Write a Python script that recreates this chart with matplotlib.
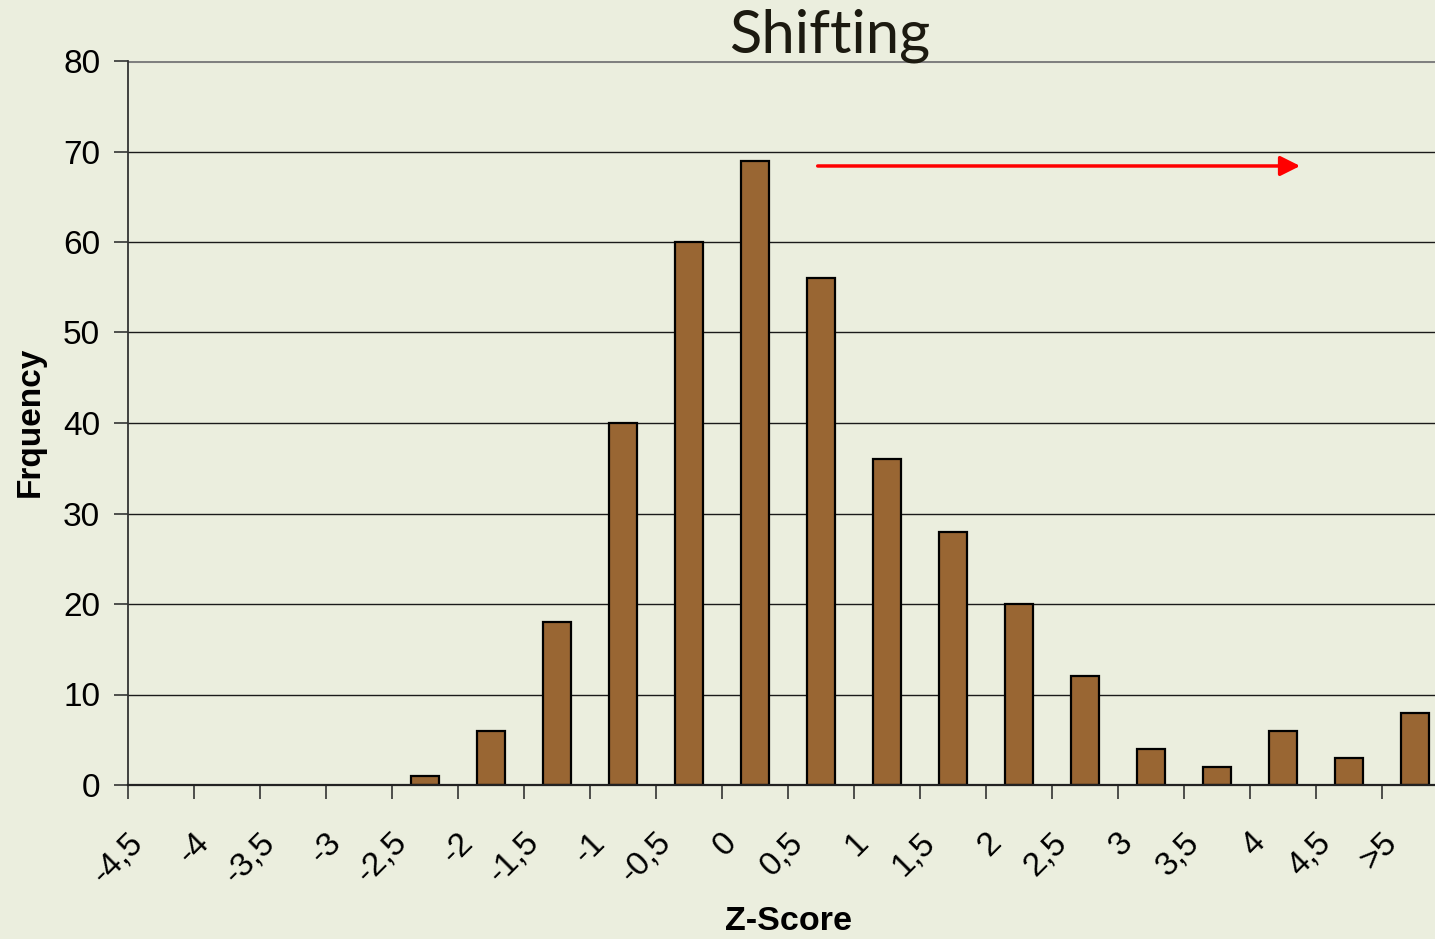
import matplotlib
matplotlib.use("Agg")
import matplotlib.pyplot as plt
import matplotlib.transforms as mtransforms
import numpy as np

# --- Data ---
z_labels = ["-4,5", "-4", "-3,5", "-3", "-2,5", "-2", "-1,5", "-1", "-0,5", "0",
            "0,5", "1", "1,5", "2", "2,5", "3", "3,5", "4", "4,5", ">5"]
frequency = [0, 0, 0, 0, 1, 6, 18, 40, 60, 69,
             56, 36, 28, 20, 12, 4, 2, 6, 3, 8]
y_ticks = [0, 10, 20, 30, 40, 50, 60, 70, 80]

# red "shift" arrow (category units, frequency units)
arrow_start = (9.95, 68.4)
arrow_end = (17.26, 68.4)

bg = "#EBEEDE"
bar_color = "#996633"

plt.rcParams["font.family"] = ["Liberation Sans", "DejaVu Sans"]

fig = plt.figure(figsize=(14.35, 9.39), dpi=100, facecolor=bg)
ax = fig.add_axes([128 / 1435, 154 / 939, 1320 / 1435, 724 / 939], facecolor=bg)

x = np.arange(len(z_labels))
edges = ["black" if v > 0 else "none" for v in frequency]
ax.bar(x, frequency, width=0.42, color=bar_color, edgecolor=edges, linewidth=1.6, zorder=3)

# --- Axes ---
ax.set_xlim(-0.5, len(z_labels) - 0.5)
ax.set_ylim(0, 80)
ax.set_yticks(y_ticks)
ax.set_yticklabels([str(v) for v in y_ticks], fontsize=24)
ax.grid(axis="y", color="#1a1a1a", linewidth=1.0, zorder=1)
ax.axhline(80, color="#808080", linewidth=2.2, zorder=2)

ax.set_xticks(x)
ax.set_xticks(np.arange(len(z_labels) + 1) - 0.5, minor=True)
ax.set_xticklabels(z_labels, fontsize=24, rotation=45, ha="right", va="top")
ax.tick_params(axis="x", which="major", length=0, pad=30)
ax.tick_params(axis="x", which="minor", length=10, width=1.2, color="#333333")
ax.tick_params(axis="y", length=10, width=1.2, color="#333333", pad=10)
shift = mtransforms.ScaledTranslation(-0.12, 0, fig.dpi_scale_trans)
for lbl in ax.get_xticklabels():
    lbl.set_transform(lbl.get_transform() + shift)

for side in ["top", "right"]:
    ax.spines[side].set_visible(False)
ax.spines["left"].set_color("#333333")
ax.spines["left"].set_linewidth(1.3)
ax.spines["bottom"].set_color("#222222")
ax.spines["bottom"].set_linewidth(1.6)
ax.spines["bottom"].set_zorder(4)

# --- Labels ---
fig.text(30 / 1435, 1 - 422 / 939, "Frquency", rotation=90, fontsize=24, fontweight="bold",
         ha="center", va="center")
fig.text(789 / 1435, 1 - 922 / 939, "Z-Score", fontsize=24.5, fontweight="bold",
         ha="center", va="center")
fig.text(830 / 1435, 1 - 36 / 939, "Shifting", fontsize=43, family="Lato",
         color="#1c1a10", ha="center", va="center")

ax.annotate("", xy=arrow_end, xytext=arrow_start,
            arrowprops=dict(arrowstyle="-|>", color="#FF0000", lw=2.5, mutation_scale=30,
                            shrinkA=0, shrinkB=0), zorder=5)

fig.savefig("out.png", dpi=100, facecolor=bg)
